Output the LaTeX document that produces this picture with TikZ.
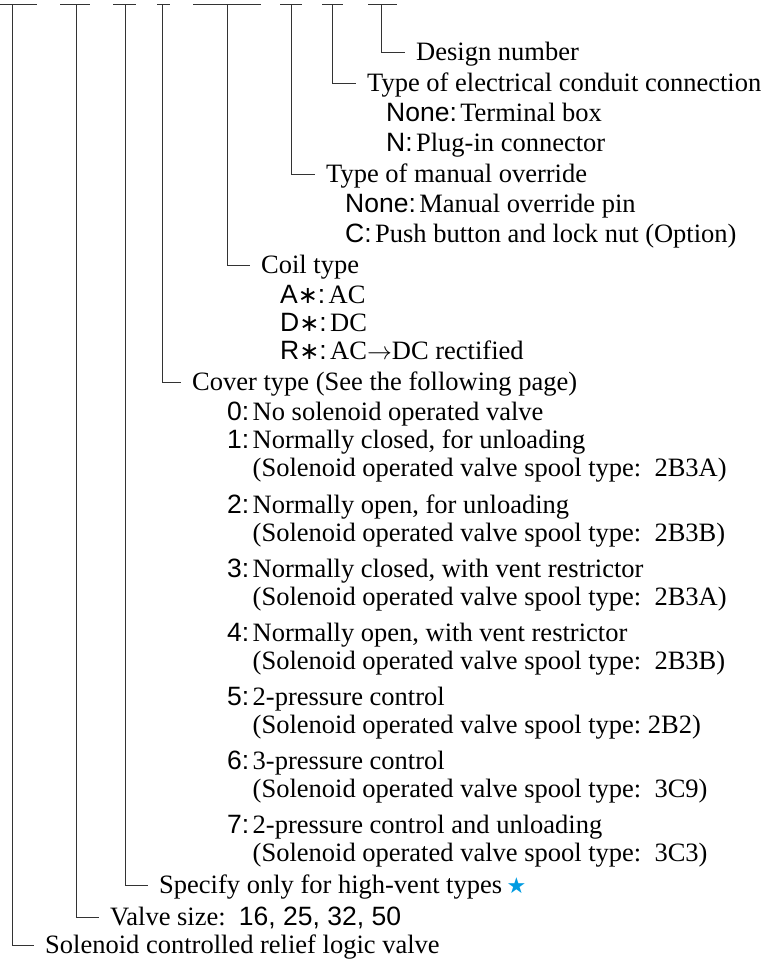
\documentclass[tikz,border=0pt]{standalone}
\usepackage{fontspec}
\setmainfont{Liberation Serif}
\newfontfamily\lsans{Liberation Sans}
\newfontfamily\dejavu{DejaVu Sans}
\definecolor{starblue}{RGB}{0,155,225}
\newcommand{\astr}{{\dejavu\fontsize{24}{24}\selectfont ∗}}
\begin{document}
\begin{tikzpicture}[x=1pt,y=-1pt,
  ln/.style={line width=1pt, draw=black!80},
  txt/.style={anchor=base west, inner sep=0pt, font=\fontsize{26.5}{30}\selectfont},
  lab/.style={anchor=base west, inner sep=0pt, font=\fontsize{26.5}{30}\selectfont\lsans},
  desc/.style={txt, anchor=base west}]
\useasboundingbox (0,0) rectangle (767,962);
% top bars
\foreach \l/\r/\v/\n in {0/37/12/1, 60/90/76/2, 113/136/125/3, 157/170/162/4, 193/261/227/5, 280/302/291/6, 322/343/332/7, 368/397/381/8}{
  \coordinate (b\n l) at (\l,4);
  \coordinate (b\n r) at (\r,4);
  \coordinate (v\n) at (\v,4);
  \draw[ln] (b\n l) -- (b\n r);
}
% headings
\node[txt] (design)  at (416,60)  {Design number};
\node[txt] (typeel)  at (367,91)  {Type of electrical conduit connection};
\node[txt] (manual)  at (326,182) {Type of manual override};
\node[txt] (coil)    at (261,273) {Coil type};
\node[txt] (cover)   at (192,390) {Cover type (See the following page)};
\node[txt] (specify) at (159,893) {Specify only for high-vent types\,{\dejavu\fontsize{22}{22}\selectfont\color{starblue}★}};
\node[txt] (valve)   at (110,925) {Valve size:\ \ {\lsans 16, 25, 32, 50}};
\node[txt] (sol)     at (45,953)  {Solenoid controlled relief logic valve};
% elbows
\foreach \v/\h in {8/design, 7/typeel, 6/manual, 5/coil, 4/cover, 3/specify, 2/valve, 1/sol}{
  \draw[ln] (v\v) |- ([xshift=-11pt,yshift=8pt]\h.base west);
}
% electrical conduit
\node[lab] (e1) at (386,121) {None:};
\node[desc] (e1d) at ([xshift=3pt]e1.base east) {Terminal box};
\node[lab] (e2) at (386,151) {N:};
\node[desc] (e2d) at ([xshift=3pt]e2.base east) {Plug-in connector};
% manual override
\node[lab] (m1) at (345,212) {None:};
\node[desc] (m1d) at ([xshift=3pt]m1.base east) {Manual override pin};
\node[lab] (m2) at (345,242) {C:};
\node[desc] (m2d) at ([xshift=3pt]m2.base east) {Push button and lock nut (Option)};
% coil
\node[lab] (k1) at (280,303) {A\astr:};
\node[desc] (k1d) at ([xshift=3pt]k1.base east) {AC};
\node[lab] (k2) at (280,331) {D\astr:};
\node[desc] (k2d) at ([xshift=3pt]k2.base east) {DC};
\node[lab] (k3) at (280,359) {R\astr:};
\node[desc] (k3d) at ([xshift=3pt]k3.base east) {AC$\rightarrow$DC rectified};
% cover
\node[lab] (c0) at (227,420) {0:};
\node[desc] (c0d) at ([xshift=3pt]c0.base east) {No solenoid operated valve};
\node[lab] (c1) at (227,448) {1:};
\node[desc] (c1d) at ([xshift=3pt]c1.base east) {Normally closed, for unloading};
\node[desc] (c1p) at ([yshift=-28pt]c1d.base west) {(Solenoid operated valve spool type:\ \ 2B3A)};
\node[lab] (c2) at (227,513) {2:};
\node[desc] (c2d) at ([xshift=3pt]c2.base east) {Normally open, for unloading};
\node[desc] (c2p) at ([yshift=-28pt]c2d.base west) {(Solenoid operated valve spool type:\ \ 2B3B)};
\node[lab] (c3) at (227,577) {3:};
\node[desc] (c3d) at ([xshift=3pt]c3.base east) {Normally closed, with vent restrictor};
\node[desc] (c3p) at ([yshift=-28pt]c3d.base west) {(Solenoid operated valve spool type:\ \ 2B3A)};
\node[lab] (c4) at (227,641) {4:};
\node[desc] (c4d) at ([xshift=3pt]c4.base east) {Normally open, with vent restrictor};
\node[desc] (c4p) at ([yshift=-28pt]c4d.base west) {(Solenoid operated valve spool type:\ \ 2B3B)};
\node[lab] (c5) at (227,705) {5:};
\node[desc] (c5d) at ([xshift=3pt]c5.base east) {2-pressure control};
\node[desc] (c5p) at ([yshift=-28pt]c5d.base west) {(Solenoid operated valve spool type:\ 2B2)};
\node[lab] (c6) at (227,769) {6:};
\node[desc] (c6d) at ([xshift=3pt]c6.base east) {3-pressure control};
\node[desc] (c6p) at ([yshift=-28pt]c6d.base west) {(Solenoid operated valve spool type:\ \ 3C9)};
\node[lab] (c7) at (227,833) {7:};
\node[desc] (c7d) at ([xshift=3pt]c7.base east) {2-pressure control and unloading};
\node[desc] (c7p) at ([yshift=-28pt]c7d.base west) {(Solenoid operated valve spool type:\ \ 3C3)};
\end{tikzpicture}
\end{document}
